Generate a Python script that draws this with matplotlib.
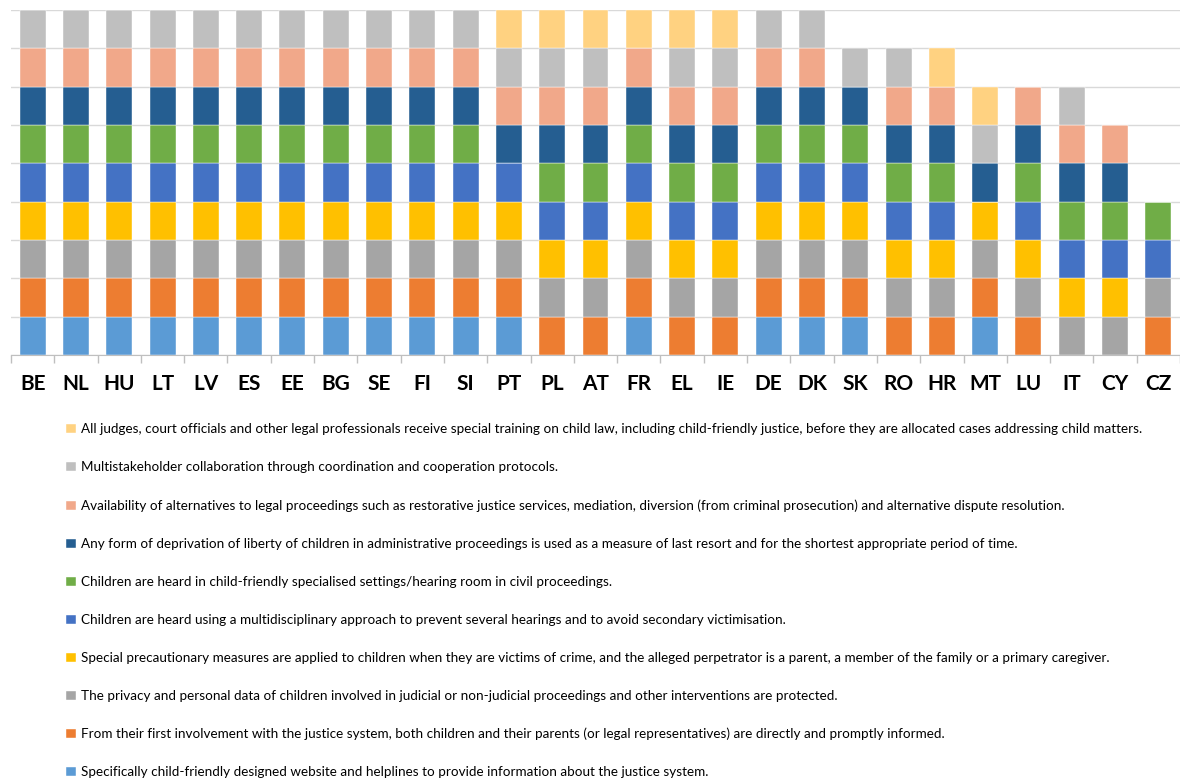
import matplotlib.pyplot as plt
import numpy as np
from matplotlib.ticker import FixedLocator

countries = ["BE", "NL", "HU", "LT", "LV", "ES", "EE", "BG", "SE", "FI", "SI",
             "PT", "PL", "AT", "FR", "EL", "IE", "DE", "DK", "SK", "RO", "HR",
             "MT", "LU", "IT", "CY", "CZ"]

# 1 = measure in place, 0 = not in place (one entry per country above)
website = [1] * 11 + [1, 0, 0, 1, 0, 0, 1, 1, 1, 0, 0, 1, 0, 0, 0, 0]
first_info = [1] * 11 + [1, 1, 1, 1, 1, 1, 1, 1, 1, 1, 1, 1, 1, 0, 0, 1]
privacy = [1] * 11 + [1, 1, 1, 1, 1, 1, 1, 1, 1, 1, 1, 1, 1, 1, 1, 1]
precaution = [1] * 11 + [1, 1, 1, 1, 1, 1, 1, 1, 1, 1, 1, 1, 1, 1, 1, 0]
multidisc = [1] * 11 + [1, 1, 1, 1, 1, 1, 1, 1, 1, 1, 1, 0, 1, 1, 1, 1]
heard_civil = [1] * 11 + [0, 1, 1, 1, 1, 1, 1, 1, 1, 1, 1, 0, 1, 1, 1, 1]
deprivation = [1] * 11 + [1, 1, 1, 1, 1, 1, 1, 1, 1, 1, 1, 1, 1, 1, 1, 0]
alternatives = [1] * 11 + [1, 1, 1, 1, 1, 1, 1, 1, 0, 1, 1, 0, 1, 1, 1, 0]
stakeholders = [1] * 11 + [1, 1, 1, 0, 1, 1, 1, 1, 1, 1, 0, 1, 0, 1, 0, 0]
training = [0] * 11 + [1, 1, 1, 1, 1, 1, 0, 0, 0, 0, 1, 1, 0, 0, 0, 0]

labels = [
    "Specifically child-friendly designed website and helplines to provide information about the justice system.",
    "From their first involvement with the justice system, both children and their parents (or legal representatives) are directly and promptly informed.",
    "The privacy and personal data of children involved in judicial or non-judicial proceedings and other interventions are protected.",
    "Special precautionary measures are applied to children when they are victims of crime, and the alleged perpetrator is a parent, a member of the family or a primary caregiver.",
    "Children are heard using a multidisciplinary approach to prevent several hearings and to avoid secondary victimisation.",
    "Children are heard in child-friendly specialised settings/hearing room in civil proceedings.",
    "Any form of deprivation of liberty of children in administrative proceedings is used as a measure of last resort and for the shortest appropriate period of time.",
    "Availability of alternatives to legal proceedings such as restorative justice services, mediation, diversion (from criminal prosecution) and alternative dispute resolution.",
    "Multistakeholder collaboration through coordination and cooperation protocols.",
    "All judges, court officials and other legal professionals receive special training on child law, including child-friendly justice, before they are allocated cases addressing child matters.",
]

series = [website, first_info, privacy, precaution, multidisc, heard_civil,
          deprivation, alternatives, stakeholders, training]
colors = ["#5B9BD5", "#ED7D31", "#A5A5A5", "#FFC000", "#4472C4", "#70AD47",
          "#255E91", "#F1A88A", "#BFBFBF", "#FFD281"]

plt.rcParams["font.family"] = ["Lato", "DejaVu Sans"]

fig = plt.figure(figsize=(11.8, 7.8), dpi=100)
ax = fig.add_axes([11 / 1180, 1 - 355 / 780, 1 - 11 / 1180, 345 / 780])

x = np.arange(len(countries))
bottom = np.zeros(len(countries))
handles = []
for vals, color, label in zip(series, colors, labels):
    vals = np.array(vals, dtype=float)
    bars = ax.bar(x, vals, bottom=bottom, width=0.6, color=color,
                  edgecolor="white", linewidth=0.3, label=label, zorder=2)
    handles.append(bars)
    bottom += vals

ax.set_xlim(-0.5, len(countries) - 0.5)
ax.set_ylim(0, 9)
ax.set_yticks(np.arange(0, 10))
ax.yaxis.grid(True, color="#D9D9D9", linewidth=1, zorder=0)
ax.set_axisbelow(True)
ax.tick_params(axis="y", left=False, labelleft=False)

ax.set_xticks(x)
ax.set_xticklabels(countries, fontsize=15, fontweight="bold", color="black")
ax.tick_params(axis="x", which="major", length=0, pad=14)
ax.xaxis.set_minor_locator(FixedLocator(np.arange(-0.5, len(countries), 1)))
ax.tick_params(axis="x", which="minor", length=6, color="#BFBFBF", width=1)

for side in ["top", "right", "left"]:
    ax.spines[side].set_visible(False)
ax.spines["bottom"].set_color("#BFBFBF")

fig.legend(handles[::-1], labels[::-1], loc="upper left",
           bbox_to_anchor=(61 / 1180, 1 - 418 / 780), frameon=False,
           fontsize=9.7, handlelength=0.7, handleheight=0.7,
           handletextpad=0.4, labelspacing=1.93, borderaxespad=0)

fig.savefig("out.png", dpi=100)
